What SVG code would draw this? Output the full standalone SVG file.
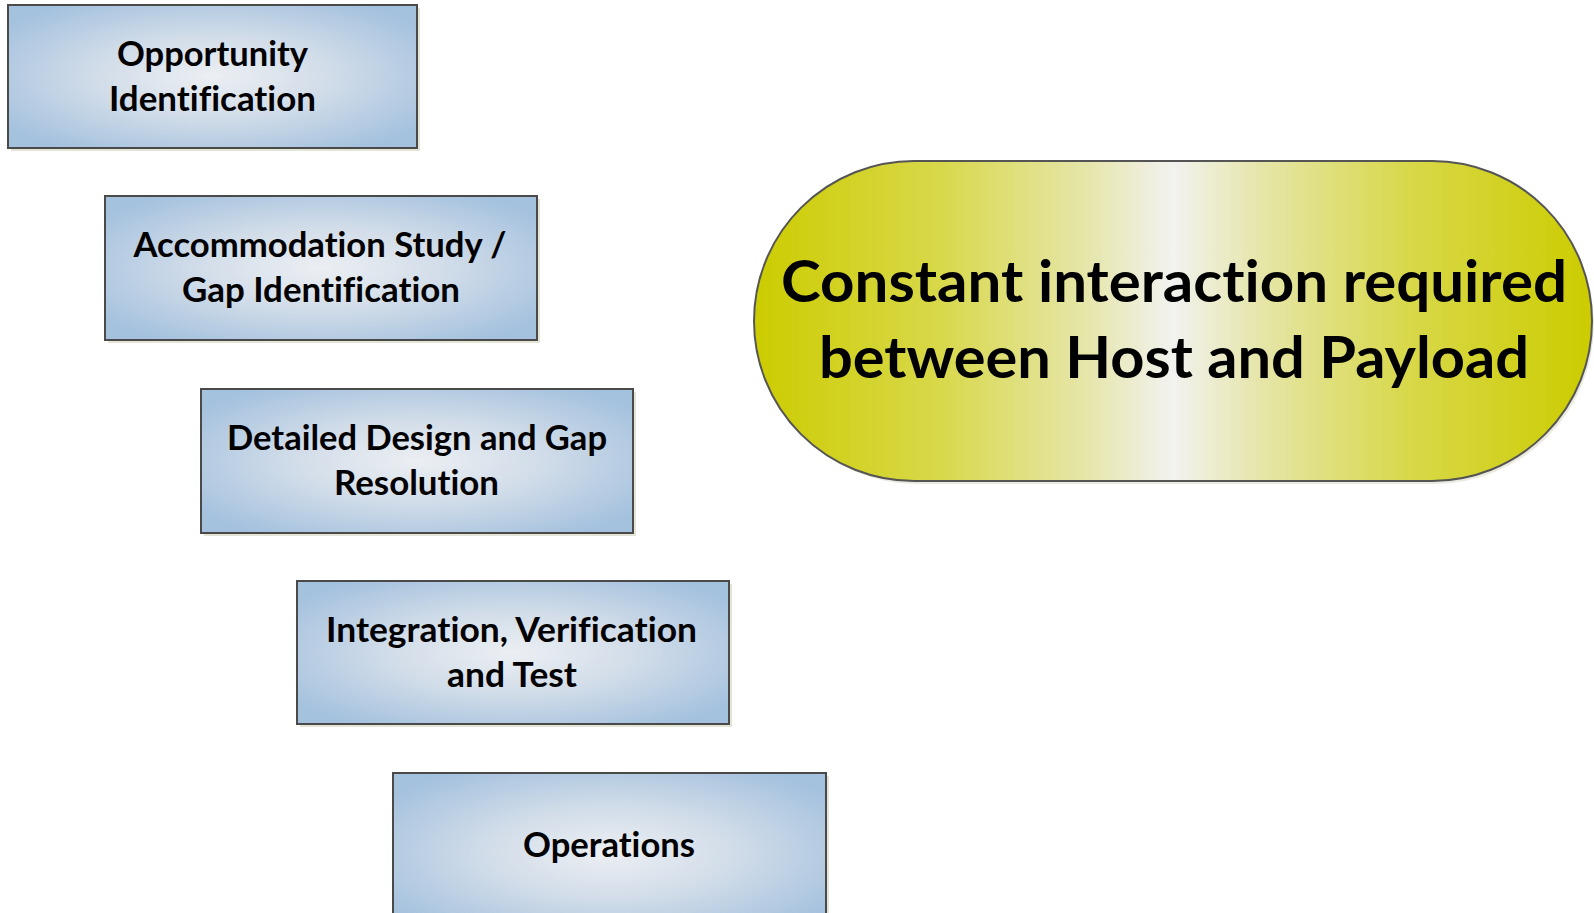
<svg xmlns="http://www.w3.org/2000/svg" width="1594" height="913" viewBox="0 0 1594 913">
  <style>
    .box { fill: url(#blueGrad); stroke: #4a4a4a; stroke-width: 2; }
    .shadow { fill: #d9d9c6; opacity: 0.7; }
    text { font-variant-ligatures: none; font-feature-settings: "liga" 0, "clig" 0; }
    .lbl { font-family: Lato, "Open Sans", "Liberation Sans", sans-serif; font-weight: bold; font-size: 34px; fill: #000; text-anchor: middle; }
    .big { font-family: Lato, "Open Sans", "Liberation Sans", sans-serif; font-weight: bold; font-size: 57px; fill: #000; text-anchor: middle; }
    .pill { fill: url(#yellowGrad); stroke: #555; stroke-width: 2; }
  </style>
  <defs>
    <radialGradient id="blueGrad" cx="50%" cy="50%" r="62%">
      <stop offset="0" stop-color="#eceff3"/>
      <stop offset="0.45" stop-color="#d2dde9"/>
      <stop offset="1" stop-color="#a4c1de"/>
    </radialGradient>
    <linearGradient id="yellowGrad" x1="0" y1="0" x2="1" y2="0">
      <stop offset="0" stop-color="#cccc00"/>
      <stop offset="0.22" stop-color="#d8d84a"/>
      <stop offset="0.4" stop-color="#e6e6ac"/>
      <stop offset="0.5" stop-color="#f2f2f0"/>
      <stop offset="0.6" stop-color="#e6e6ac"/>
      <stop offset="0.78" stop-color="#d8d84a"/>
      <stop offset="1" stop-color="#cccc00"/>
    </linearGradient>
  </defs>
  <rect width="1594" height="913" fill="#ffffff"/>
  <g id="connectors"></g>
  <g id="node-opportunity">
    <rect class="shadow" x="11" y="8" width="409" height="143"/>
    <rect class="box" x="8" y="5" width="409" height="143"/>
    <text class="lbl" x="212.5" y="66" textLength="191" lengthAdjust="spacingAndGlyphs">Opportunity</text>
    <text class="lbl" x="212.5" y="111" textLength="207" lengthAdjust="spacingAndGlyphs">Identification</text>
  </g>
  <g id="node-accommodation">
    <rect class="shadow" x="108" y="199" width="432" height="144"/>
    <rect class="box" x="105" y="196" width="432" height="144"/>
    <text class="lbl" x="320" y="257" textLength="373" lengthAdjust="spacingAndGlyphs">Accommodation Study /</text>
    <text class="lbl" x="321" y="302" textLength="278" lengthAdjust="spacingAndGlyphs">Gap Identification</text>
  </g>
  <g id="node-detailed">
    <rect class="shadow" x="204" y="392" width="432" height="144"/>
    <rect class="box" x="201" y="389" width="432" height="144"/>
    <text class="lbl" x="417" y="450" textLength="380" lengthAdjust="spacingAndGlyphs">Detailed Design and Gap</text>
    <text class="lbl" x="416.5" y="495" textLength="165" lengthAdjust="spacingAndGlyphs">Resolution</text>
  </g>
  <g id="node-integration">
    <rect class="shadow" x="300" y="584" width="432" height="143"/>
    <rect class="box" x="297" y="581" width="432" height="143"/>
    <text class="lbl" x="511.5" y="642" textLength="371" lengthAdjust="spacingAndGlyphs">Integration, Verification</text>
    <text class="lbl" x="512" y="687" textLength="130" lengthAdjust="spacingAndGlyphs">and Test</text>
  </g>
  <g id="node-operations">
    <rect class="shadow" x="396" y="776" width="433" height="160"/>
    <rect class="box" x="393" y="773" width="433" height="160"/>
    <text class="lbl" x="609" y="857" textLength="172" lengthAdjust="spacingAndGlyphs">Operations</text>
  </g>
  <g id="node-interaction">
    <rect x="757" y="164" width="837" height="320" rx="160" ry="160" fill="#dcdccc" opacity="0.6"/>
    <rect class="pill" x="754" y="161" width="838" height="320" rx="160" ry="160"/>
    <text class="big" x="1174" y="302" textLength="786" lengthAdjust="spacingAndGlyphs">Constant interaction required</text>
    <text class="big" x="1174" y="378" textLength="710" lengthAdjust="spacingAndGlyphs">between Host and Payload</text>
  </g>
</svg>
